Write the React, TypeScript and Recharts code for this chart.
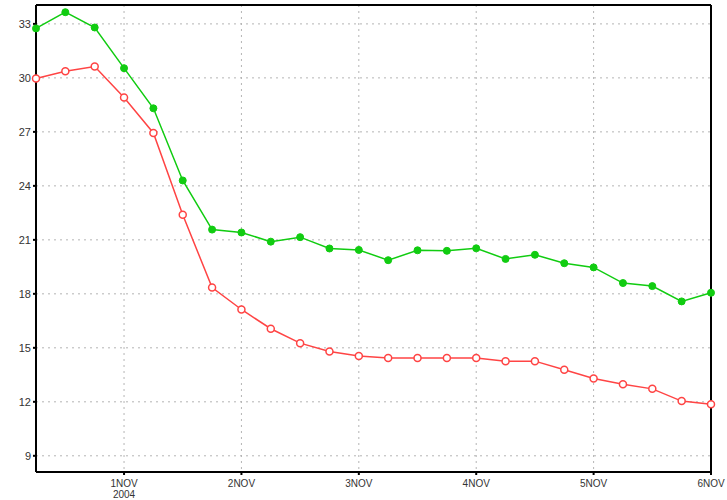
import React from 'react';
import { LineChart, Line, XAxis, YAxis, CartesianGrid, ReferenceLine } from 'recharts';

// hours relative to 1 Nov 2004 00:00, one sample every 6h
const HOURS = [
  -18, -12, -6, 0, 6, 12, 18, 24, 30, 36, 42, 48, 54, 60, 66, 72, 78, 84, 90, 96, 102, 108, 114, 120,
];
const GREEN = [
  32.75, 33.65, 32.8, 30.54, 28.31, 24.3, 21.57, 21.41, 20.9, 21.15, 20.52, 20.44, 19.87, 20.42,
  20.39, 20.53, 19.94, 20.17, 19.7, 19.47, 18.6, 18.43, 17.58, 18.06,
];
const RED = [
  29.97, 30.37, 30.63, 28.91, 26.94, 22.39, 18.35, 17.13, 16.06, 15.26, 14.8, 14.55, 14.43, 14.44,
  14.44, 14.43, 14.26, 14.26, 13.78, 13.3, 12.98, 12.72, 12.04, 11.87,
];
const X_TICKS = [0, 24, 48, 72, 96, 120];
const X_LABELS = ['1NOV', '2NOV', '3NOV', '4NOV', '5NOV', '6NOV'];
const Y_TICKS = [9, 12, 15, 18, 21, 24, 27, 30, 33];
const X_DOMAIN: [number, number] = [-18, 120];
const Y_DOMAIN: [number, number] = [8.1, 34.05];

const data = HOURS.map((h, i) => ({ h, green: GREEN[i], red: RED[i] }));

const FONT = 'Liberation Sans, Arial, sans-serif';

const XTick = (props: any) => {
  const { x, y, payload } = props;
  const idx = X_TICKS.indexOf(payload.value);
  return (
    <g transform={`translate(${x},${y})`}>
      <text x={0} y={10} textAnchor="middle" fontSize={10} fill="#333" fontFamily={FONT}>
        {X_LABELS[idx]}
      </text>
      {idx === 0 && (
        <text x={0} y={21} textAnchor="middle" fontSize={10} fill="#333" fontFamily={FONT}>
          2004
        </text>
      )}
    </g>
  );
};

export default function App() {
  return (
    <div style={{ width: 727, height: 500, background: '#fff' }}>
      <style>{`body{margin:0}`}</style>
      <LineChart width={727} height={500} data={data} margin={{ top: 5, right: 16, left: 0, bottom: 0 }}>
        <CartesianGrid stroke="#b4b4b4" strokeDasharray="2 4" />
        <XAxis
          dataKey="h"
          type="number"
          domain={X_DOMAIN}
          ticks={X_TICKS}
          tick={<XTick />}
          height={28}
          stroke="#000"
          strokeWidth={2}
          tickSize={3}
          interval={0}
        />
        <YAxis
          type="number"
          domain={Y_DOMAIN}
          ticks={Y_TICKS}
          allowDataOverflow
          width={36}
          stroke="#000"
          strokeWidth={2}
          tickSize={3}
          tick={{ fill: '#333', fontSize: 11, fontFamily: FONT }}
          interval={0}
        />
        {/* frame: top and right edges */}
        <ReferenceLine y={Y_DOMAIN[1]} stroke="#000" strokeWidth={2} />
        <ReferenceLine x={X_DOMAIN[1]} stroke="#000" strokeWidth={2} />
        <Line
          dataKey="green"
          stroke="#11cc11"
          strokeWidth={1.5}
          dot={{ r: 3.5, fill: '#11cc11', stroke: '#11cc11', strokeWidth: 1 }}
          isAnimationActive={false}
        />
        <Line
          dataKey="red"
          stroke="#ff4444"
          strokeWidth={1.5}
          dot={{ r: 3.5, fill: '#fff', stroke: '#ff4444', strokeWidth: 1.5 }}
          isAnimationActive={false}
        />
      </LineChart>
    </div>
  );
}
